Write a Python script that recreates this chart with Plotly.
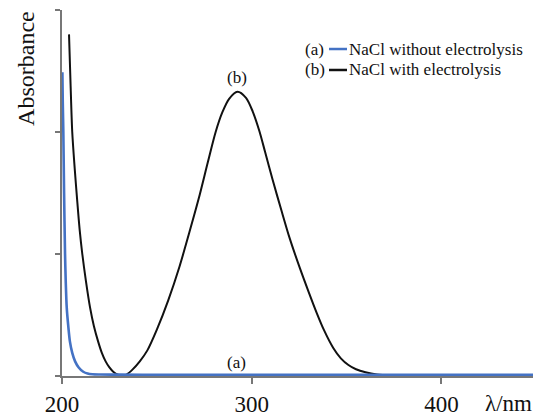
import plotly.graph_objects as go

# Wavelength (nm) and absorbance
wl_a = [200.2, 200.4, 200.7, 201.1, 201.6, 202.0, 202.5, 203.3, 204.2, 205.4, 206.9, 208.8,
        211.2, 213.5, 216.0, 220.0, 230.0, 250.0, 300.0, 350.0, 400.0, 450.0]
abs_a = [2.49, 2.25, 2.00, 1.50, 1.00, 0.76, 0.56, 0.41, 0.28, 0.19, 0.12, 0.07,
         0.035, 0.02, 0.014, 0.012, 0.011, 0.01, 0.01, 0.01, 0.01, 0.01]

wl_b = [203.7, 204.5, 205.4, 206.7, 208.0, 209.3, 210.7, 212.6, 214.8, 216.8, 219.1, 221.0,
        223.0, 225.0, 227.0, 229.5, 231.5, 234.0, 237.0, 241.0, 245.0, 250.0, 256.0, 262.0,
        267.0, 272.0, 277.0, 281.0, 284.5, 288.0, 292.5, 297.0, 300.5, 304.0, 307.0, 311.0,
        315.8, 320.0, 325.5, 330.0, 334.2, 338.0, 343.0, 347.0, 351.0, 355.0, 360.0, 366.0,
        373.0, 380.0, 392.0]
abs_b = [2.80, 2.40, 2.00, 1.70, 1.44, 1.20, 1.00, 0.78, 0.56, 0.41, 0.28, 0.19,
         0.12, 0.07, 0.035, 0.01, 0.002, 0.012, 0.05, 0.12, 0.21, 0.38, 0.62, 0.90,
         1.17, 1.45, 1.76, 2.00, 2.16, 2.27, 2.33, 2.28, 2.17, 2.01, 1.84, 1.61,
         1.35, 1.13, 0.88, 0.69, 0.52, 0.38, 0.23, 0.145, 0.09, 0.055, 0.03, 0.012,
         0.003, 0.0, 0.0]

x_ticks = [200, 300, 400]
y_ticks = [0, 1, 2, 3]

legend_tags = ["(a)", "(b)"]
legend_names = ["NaCl without electrolysis", "NaCl with electrolysis"]

BLUE = "#4472C4"
BLACK = "#111111"
SERIF = "Liberation Serif, Times New Roman, serif"

fig = go.Figure()
fig.add_trace(go.Scatter(x=wl_b, y=abs_b, mode="lines", name=legend_names[1],
                         line=dict(color=BLACK, width=2, shape="spline", smoothing=0.8),
                         showlegend=False))
fig.add_trace(go.Scatter(x=wl_a, y=abs_a, mode="lines", name=legend_names[0],
                         line=dict(color=BLUE, width=2.6, shape="spline", smoothing=0.8),
                         showlegend=False))

# the page body has an 8px margin, so the figure is sized/offset to compensate
fig.update_layout(
    width=533, height=410,
    margin=dict(l=54, r=4, t=2, b=42, autoexpand=False),
    plot_bgcolor="white", paper_bgcolor="white",
    font=dict(family=SERIF, color=BLACK),
    xaxis=dict(range=[200, 450.4], tickvals=x_ticks, ticktext=[str(v) for v in x_ticks],
               showline=True, linecolor="#777777", linewidth=1.5,
               ticks="outside", ticklen=6, tickcolor="#777777", tickwidth=1.5,
               showgrid=False, zeroline=False, tickfont=dict(size=23, family=SERIF),
               ticklabelstandoff=1, automargin=False),
    yaxis=dict(range=[0, 3], tickvals=y_ticks, showticklabels=False,
               showline=True, linecolor="#777777", linewidth=1.5,
               ticks="outside", ticklen=5, tickcolor="#777777", tickwidth=1.5,
               showgrid=False, zeroline=False, automargin=False),
)

annots = [
    dict(x=-0.076, y=0.8415, xref="paper", yref="paper", text="Absorbance", textangle=-90,
         showarrow=False, font=dict(size=24, family=SERIF), xanchor="center", yanchor="middle"),
    dict(x=0.941, y=-0.0765, xref="paper", yref="paper", text="λ/nm",
         showarrow=False, font=dict(size=23, family=SERIF), xanchor="center", yanchor="middle"),
    dict(x=292.2, y=0.107, xref="x", yref="y", text="(a)", showarrow=False,
         font=dict(size=17, family=SERIF), xanchor="center", yanchor="middle"),
    dict(x=292.2, y=2.45, xref="x", yref="y", text="(b)", showarrow=False,
         font=dict(size=17, family=SERIF), xanchor="center", yanchor="middle"),
]
shapes = []
row_y = [0.8934, 0.8361]
row_col = [BLUE, BLACK]
for tag, name, yy, col in zip(legend_tags, legend_names, row_y, row_col):
    annots.append(dict(x=0.5074, y=yy, xref="paper", yref="paper", text=tag, showarrow=False,
                       font=dict(size=17, family=SERIF), xanchor="left", yanchor="middle"))
    annots.append(dict(x=0.601, y=yy, xref="paper", yref="paper", text=name, showarrow=False,
                       font=dict(size=17, family=SERIF), xanchor="left", yanchor="middle"))
    shapes.append(dict(type="line", xref="paper", yref="paper", x0=0.5621, x1=0.6,
                       y0=yy, y1=yy, line=dict(color=col, width=2.5)))
fig.update_layout(annotations=annots, shapes=shapes)

fig.write_html("out.html")
